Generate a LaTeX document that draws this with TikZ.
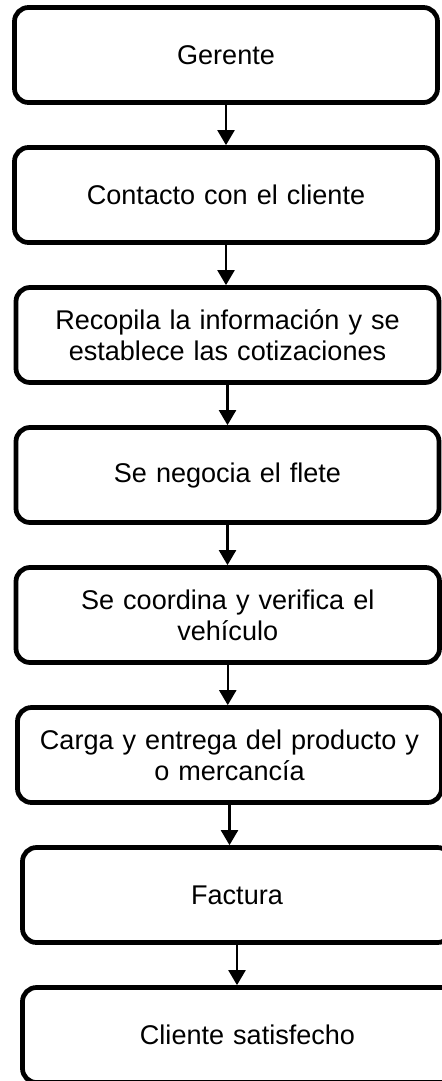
\documentclass[tikz,border=0pt]{standalone}
\usepackage{fontspec}
\setmainfont{Liberation Sans}
\usetikzlibrary{arrows.meta}

\begin{document}
\begin{tikzpicture}[
    block/.style={
        rectangle,
        rounded corners=0.28cm,
        draw=black,
        fill=white,
        line width=2.7pt,
        minimum width=8.46cm,
        minimum height=1.9cm,
        text width=7.6cm,
        align=center,
        font=\fontsize{15.4}{17.5}\selectfont
    },
    arrow/.style={
        -{Triangle[width=0.34cm, length=0.3cm]},
        line width=1.3pt,
        black
    }
]

% Page frame
\useasboundingbox (0,0) rectangle (8.84,-21.62);

% Steps
\node[block] (gerente) at (4.52,-1.1) {Gerente};
\node[block] (contacto) at (4.52,-3.9) {Contacto con el cliente};
\node[block] (recopila) at (4.55,-6.7) {Recopila la información y se\\establece las cotizaciones};
\node[block] (negocia) at (4.55,-9.5) {Se negocia el flete};
\node[block, minimum width=8.47cm] (coordina) at (4.555,-12.3) {Se coordina y verifica el\\vehículo};
\node[block, minimum width=8.48cm] (carga) at (4.59,-15.1) {Carga y entrega del producto y\\o mercancía};
\node[block, minimum width=8.58cm] (factura) at (4.74,-17.9) {Factura};
\node[block, minimum width=9cm] (cliente) at (4.95,-20.7) {Cliente satisfecho};

% Connections
\draw[arrow] (gerente.south) -- (gerente.south |- contacto.north);
\draw[arrow] (contacto.south) -- (contacto.south |- recopila.north);
\draw[arrow] (recopila.south) -- (recopila.south |- negocia.north);
\draw[arrow] (negocia.south) -- (negocia.south |- coordina.north);
\draw[arrow] (coordina.south) -- (coordina.south |- carga.north);
\draw[arrow] (carga.south) -- (carga.south |- factura.north);
\draw[arrow] (factura.south) -- (factura.south |- cliente.north);

\end{tikzpicture}
\end{document}
